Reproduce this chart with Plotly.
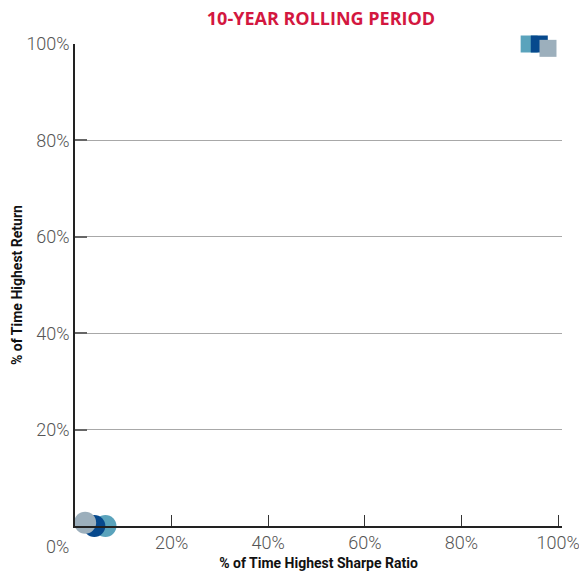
import plotly.graph_objects as go

# Each series: one point for the circle marker and one for the square marker
series_names = ["Series A", "Series B", "Series C"]
series_colors = ["#5AA3BC", "#07498D", "#9CAFBC"]
sharpe_pct = [[6.3, 94.0], [4.0, 96.1], [2.1, 97.9]]
return_pct = [[0.0, 100.0], [0.0, 100.0], [0.7, 99.1]]
symbols = ["circle", "square"]
sizes = [22, 17]

x_ticks = [20, 40, 60, 80, 100]
x_tick_text = ["20%", "40%", "60%", "80%", "100%"]
y_ticks = [20, 40, 60, 80, 100]
y_tick_text = ["20%", "40%", "60%", "80%", "100%"]

label_font = "Roboto, sans-serif"
tick_font = dict(family=label_font, size=18, color="#555555", weight=300)
axis_title_font = dict(family=label_font, size=14, color="#111111", weight="bold")

plot_left, plot_right = 75, 17
plot_width = 579 - plot_left - plot_right

fig = go.Figure()
for name, color, xs, ys in zip(series_names, series_colors, sharpe_pct, return_pct):
    fig.add_trace(go.Scatter(
        x=xs, y=ys, mode="markers", name=name, opacity=1,
        marker=dict(symbol=symbols, size=sizes, color=color, opacity=1,
                    line=dict(width=0)),
        cliponaxis=False, showlegend=False,
    ))

fig.update_layout(
    width=579, height=577,
    margin=dict(l=plot_left, r=plot_right, t=44, b=51, autoexpand=False),
    paper_bgcolor="white", plot_bgcolor="white",
    title=dict(
        text="10-YEAR ROLLING PERIOD",
        x=321 / 579, xanchor="center", xref="container",
        y=1 - 19 / 577, yanchor="middle",
        font=dict(family="Open Sans, sans-serif", size=18, color="#D3173F",
                  weight="bold"),
    ),
    xaxis=dict(
        range=[0, 100.8], tickvals=x_ticks, ticktext=x_tick_text,
        showgrid=False, zeroline=False, automargin=False,
        ticklabeloverflow="allow",
        showline=True, linecolor="#222222", linewidth=1.5,
        ticks="inside", ticklen=11, tickcolor="#333333", tickwidth=1,
        tickfont=tick_font,
        title=dict(text="% of Time Highest Sharpe Ratio", standoff=6,
                   font=axis_title_font),
    ),
    yaxis=dict(
        range=[0, 100], tickvals=y_ticks, ticktext=y_tick_text,
        showgrid=True, gridcolor="#A8A8A8", gridwidth=1, zeroline=False,
        automargin=False,
        showline=True, linecolor="#222222", linewidth=1.5,
        ticks="inside", ticklen=12, tickcolor="#666666", tickwidth=2,
        tickfont=tick_font,
    ),
)

# Vertical axis title
fig.add_annotation(
    x=-(plot_left - 17) / plot_width, y=0.5, xref="paper", yref="paper",
    text="% of Time Highest Return", textangle=-90, showarrow=False,
    xanchor="center", yanchor="middle", font=axis_title_font,
)

# 0% label for the origin, set to the left of the corner
fig.add_annotation(
    x=0, y=0, xref="x", yref="y", text="0%", showarrow=False,
    xanchor="center", yanchor="top", xshift=-18, yshift=-8,
    font=tick_font,
)

fig.write_html("out.html")
